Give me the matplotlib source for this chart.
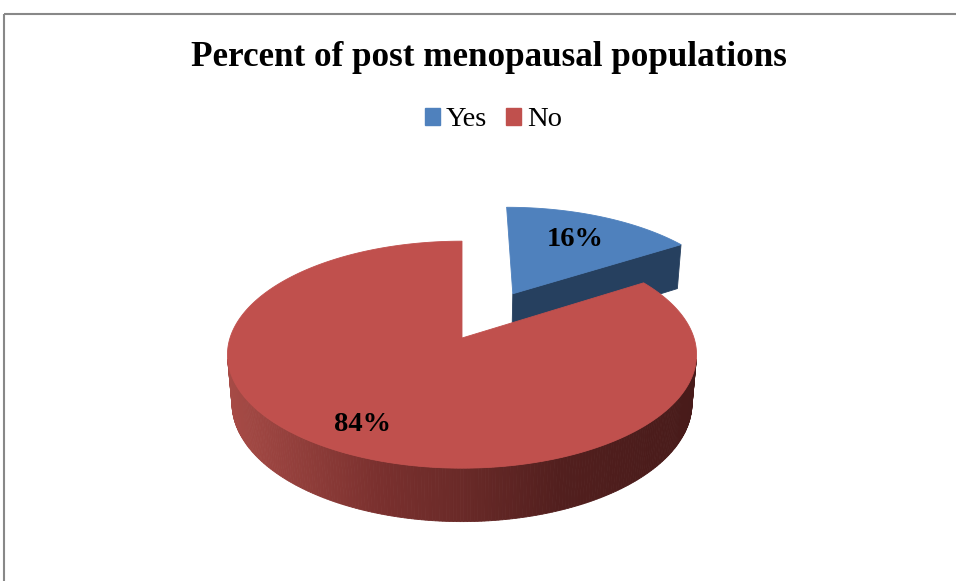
import numpy as np
import matplotlib
matplotlib.use("Agg")
import matplotlib.pyplot as plt
from matplotlib.patches import Polygon, Patch

# Data
title = "Percent of post menopausal populations"
categories = ["Yes", "No"]
shares = [16, 84]
top_colors = ["#4F81BD", "#C0504D"]
side_colors = ["#26405F", "#7A302E"]
exploded = [True, False]

# Canvas in pixel units
W, H = 956, 581
fig = plt.figure(figsize=(W / 100, H / 100), dpi=100)
ax = fig.add_axes([0, 0, 1, 1])
ax.set_xlim(0, W)
ax.set_ylim(H, 0)
ax.axis("off")

# 3-D pie geometry (pixels / degrees)
CX, CY = 462.0, 338.0
R = 232.0
ELEV = np.radians(28.6)
DIST = 1388.0
THICK = 56.0
EXPLODE = 112.0
START = 90.0
LABEL_FRAC = [0.68, 0.80]

cA, sA = np.cos(ELEV), np.sin(ELEV)
CAM = np.array([0.0, -DIST * cA, DIST * sA])


def project(x, y, z):
    v = y * sA + z * cA
    d = y * cA - z * sA
    f = DIST / (DIST + d)
    return CX + x * f, CY - v * f


def wall_rgb(px):
    # darker toward the right-hand side of the rim
    xs = np.array([226, 380, 461, 560, 696], float)
    r = np.interp(px, xs, [168, 122, 106, 82, 72])
    g = np.interp(px, xs, [76, 48, 42, 31, 27])
    b = np.interp(px, xs, [71, 46, 40, 30, 26])
    return (r / 255, g / 255, b / 255)


total = float(sum(shares))
a1 = START
wedges = []
for i, s in enumerate(shares):
    a2 = a1 - 360.0 * s / total
    wedges.append((i, a2, a1))
    a1 = a2

# draw exploded (back) slices first
order = sorted(wedges, key=lambda w: 0 if exploded[w[0]] else 1)

for i, lo, hi in order:
    mid = np.radians((lo + hi) / 2)
    ox, oy = (EXPLODE * np.cos(mid), EXPLODE * np.sin(mid)) if exploded[i] else (0.0, 0.0)
    th = np.radians(np.linspace(lo, hi, 400))
    rx = ox + R * np.cos(th)
    ry = oy + R * np.sin(th)

    # outer rim strips facing the viewer
    for k in range(len(th) - 1):
        tm = 0.5 * (th[k] + th[k + 1])
        P = np.array([ox + R * np.cos(tm), oy + R * np.sin(tm), 0.0])
        n = np.array([np.cos(tm), np.sin(tm), 0.0])
        if np.dot(CAM - P, n) <= 0:
            continue
        pts = [project(rx[k], ry[k], 0), project(rx[k + 1], ry[k + 1], 0),
               project(rx[k + 1], ry[k + 1], -THICK), project(rx[k], ry[k], -THICK)]
        col = wall_rgb(np.mean([p[0] for p in pts]))
        ax.add_patch(Polygon(pts, closed=True, facecolor=col, edgecolor=col,
                             linewidth=0.6, zorder=2))

    # radial faces
    for ang, sign in ((lo, 1), (hi, -1)):
        t = np.radians(ang)
        n = np.array([sign * np.sin(t), -sign * np.cos(t), 0.0])
        O = np.array([ox, oy, 0.0])
        vis = CAM - O
        if np.dot(vis, n) / np.linalg.norm(vis) <= 0.1:
            continue
        ex, ey = ox + R * np.cos(t), oy + R * np.sin(t)
        pts = [project(ox, oy, 0), project(ex, ey, 0),
               project(ex, ey, -THICK), project(ox, oy, -THICK)]
        ax.add_patch(Polygon(pts, closed=True, facecolor=side_colors[i],
                             edgecolor=side_colors[i], linewidth=0.6, zorder=2))

    # top face
    top = [project(ox, oy, 0)] + [project(x, y, 0) for x, y in zip(rx, ry)]
    ax.add_patch(Polygon(top, closed=True, facecolor=top_colors[i],
                         edgecolor=top_colors[i], linewidth=0.6, zorder=3))

    # percentage label
    lr = LABEL_FRAC[i] * R
    lx, ly = project(ox + lr * np.cos(mid), oy + lr * np.sin(mid), 0)
    ax.text(lx, ly, f"{shares[i]}%", ha="center", va="center",
            fontsize=20.5, fontweight="bold", family="Liberation Serif",
            color="black", zorder=5)

# Title
ax.text(489, 57, title, ha="center", va="center", fontsize=25.2,
        fontweight="bold", family="Liberation Serif", color="black")

# Legend
handles = [Patch(facecolor=c, edgecolor=c) for c in top_colors]
ax.legend(handles, categories, loc="center", bbox_to_anchor=(493.5 / W, 1 - 120 / H),
          ncol=2, frameon=False, prop={"family": "Liberation Serif", "size": 20.5},
          handlelength=0.52, handleheight=0.52, handletextpad=0.22,
          columnspacing=0.66, borderpad=0, borderaxespad=0)

# Chart frame
ax.plot([4.5, 4.5], [H, 14], color="#888888", lw=1.5, solid_capstyle="butt")
ax.plot([4, W], [14, 14], color="#888888", lw=1.5, solid_capstyle="butt")

fig.savefig("out.png", dpi=100)
